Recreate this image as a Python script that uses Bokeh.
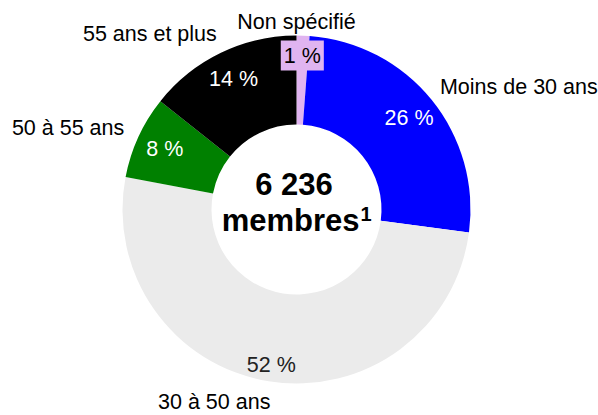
import math
from bokeh.plotting import figure
from bokeh.models import ColumnDataSource, Label, Range1d
from bokeh.core.properties import value
from bokeh.embed import file_html
from bokeh.resources import INLINE

# ---------------- data ----------------
categories = ["Non spécifié", "Moins de 30 ans", "30 à 50 ans", "50 à 55 ans", "55 ans et plus"]
shares = [1.2, 25.9, 50.9, 7.7, 14.3]
pct_labels = ["1 %", "26 %", "52 %", "8 %", "14 %"]
total_label = "6 236"
unit_label = "membres"
unit_note = "1"

# ---------------- style ----------------
colors = ["#e0b4f0", "#0000ff", "#ebebeb", "#008000", "#000000"]
pct_colors = ["#000000", "#ffffff", "#222222", "#ffffff", "#ffffff"]
FONT = "Liberation Sans"
LBL_SIZE = "21.5px"
CENTER_SIZE = "31px"
NOTE_SIZE = "20px"
R_OUT = 174
R_IN = 85
R_LBL = 195
inner_r = [154, 145, 158, 145, 145]

p = figure(width=598, height=415, x_range=Range1d(-296, 302), y_range=Range1d(-206, 209),
           toolbar_location=None, output_backend="svg", min_border=0)
p.axis.visible = False
p.grid.visible = False
p.outline_line_color = None
p.background_fill_color = "white"
p.border_fill_color = "white"

total = sum(shares)
starts, ends, mids = [], [], []
acc = 0.0
for s in shares:
    a0 = acc / total * 360.0
    acc += s
    a1 = acc / total * 360.0
    starts.append(a0)
    ends.append(a1)
    mids.append((a0 + a1) / 2)

src = ColumnDataSource(dict(
    start=[math.radians(90 - e) for e in ends],
    end=[math.radians(90 - s) for s in starts],
    color=colors,
    cat=categories,
))
p.annular_wedge(x=0, y=0, inner_radius=R_IN, outer_radius=R_OUT, start_angle="start",
                end_angle="end", direction="anticlock", fill_color="color", line_color=None,
                source=src)

# percentage labels inside the ring
for i, (lab, m) in enumerate(zip(pct_labels, mids)):
    r = inner_r[i]
    x = r * math.sin(math.radians(m))
    y = r * math.cos(math.radians(m))
    if shares[i] / total < 0.03:
        p.add_layout(Label(x=x, y=y, text=lab, text_align="center", text_baseline="middle",
                           text_font=FONT, text_font_size=LBL_SIZE, text_color=pct_colors[i],
                           background_fill_color=colors[i], padding=3))
    else:
        p.text(x=[x], y=[y], text=[lab], text_align="center", text_baseline="middle",
               text_font=value(FONT), text_font_size=value(LBL_SIZE), text_color=pct_colors[i])

# category labels outside
for i, (cat, m) in enumerate(zip(categories, mids)):
    x = R_LBL * math.sin(math.radians(m))
    y = R_LBL * math.cos(math.radians(m))
    if abs(x) < 20:
        p.text(x=[0], y=[R_OUT + 2], text=[cat], text_align="center", text_baseline="bottom",
               text_font=value(FONT), text_font_size=value(LBL_SIZE), text_color="#000000")
    elif x > 0:
        p.text(x=[x], y=[y], text=[cat], text_align="left", text_baseline="middle", x_offset=-8,
               text_font=value(FONT), text_font_size=value(LBL_SIZE), text_color="#000000")
    else:
        p.text(x=[x], y=[y], text=[cat], text_align="right", text_baseline="middle", x_offset=5,
               text_font=value(FONT), text_font_size=value(LBL_SIZE), text_color="#000000")

# center title
p.text(x=[-2.5], y=[25], text=[total_label], text_align="center", text_baseline="middle",
       text_font=value(FONT), text_font_size=value(CENTER_SIZE), text_font_style="bold",
       text_color="#000000")
p.text(x=[63], y=[-10.5], text=[unit_label], text_align="right", text_baseline="middle",
       text_font=value(FONT), text_font_size=value(CENTER_SIZE), text_font_style="bold",
       text_color="#000000")
p.text(x=[64], y=[-4], text=[unit_note], text_align="left", text_baseline="middle",
       text_font=value(FONT), text_font_size=value(NOTE_SIZE), text_font_style="bold",
       text_color="#000000")

open("out.html", "w").write(file_html(p, INLINE))
